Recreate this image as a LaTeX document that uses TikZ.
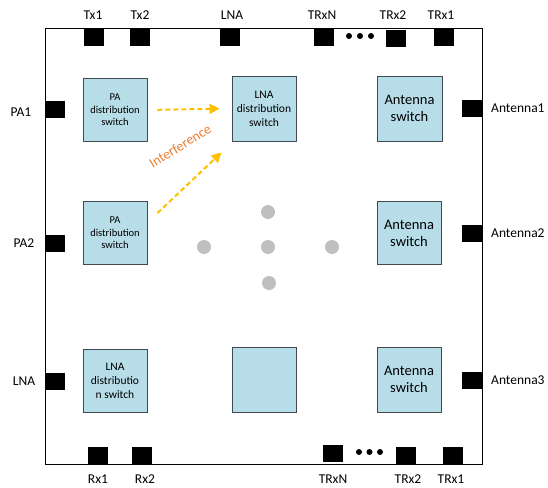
\documentclass[tikz,border=0pt]{standalone}
\usepackage{fontspec}
\setmainfont{Carlito}
\usetikzlibrary{arrows.meta,calc}
\definecolor{boxblue}{HTML}{B7DDE8}
\definecolor{boxedge}{HTML}{404A50}
\definecolor{gold}{HTML}{FFC000}
\definecolor{orng}{HTML}{ED7D31}
\definecolor{dotgray}{HTML}{BFBFBF}
\begin{document}
\begin{tikzpicture}[x=1pt,y=-1pt,
  pad/.style={fill=black,draw=none,minimum width=20pt,minimum height=17pt,inner sep=0pt},
  lbl/.style={font=\fontsize{13.5}{15}\selectfont,inner sep=0pt},
  sw/.style={draw=boxedge,line width=0.9pt,fill=boxblue,minimum width=64pt,minimum height=63pt,inner sep=0pt,align=center},
  bigtxt/.style={font=\fontsize{14.5}{17}\selectfont},
  smalltxt/.style={font=\fontsize{10.5}{12.5}\selectfont},
  midtxt/.style={font=\fontsize{11.5}{14}\selectfont},
  interf/.style={gold,line width=2pt,dash pattern=on 5pt off 3pt,-{Triangle[length=10pt,width=10pt]},shorten <=10pt,shorten >=12pt},
  gdot/.style={circle,fill=dotgray,draw=none,minimum size=14pt,inner sep=0pt},
  bdot/.style={circle,fill=black,draw=none,minimum size=6pt,inner sep=0pt}]
\useasboundingbox (0,0) rectangle (548,487);
% chip outline
\node[draw=black,line width=1pt,minimum width=437pt,minimum height=435pt,inner sep=0pt] (chip) at (263.5,246.5) {};
% top pads
\node[pad] (tx1) at (93.5,37.5) {};
\node[pad] (tx2) at (140,37.5) {};
\node[pad] (lnat) at (230,37.5) {};
\node[pad] (trxnt) at (323.5,37.5) {};
\node[pad] (trx2t) at (396,38.5) {};
\node[pad] (trx1t) at (443.5,38) {};
\node[bdot] (td1) at (349,36) {};
\node[bdot] (td2) at (360,36) {};
\node[bdot] (td3) at (371,36) {};
\node[lbl] (ltx1) at (93,15) {Tx1};
\node[lbl] (ltx2) at (140,15) {Tx2};
\node[lbl] (llnat) at (232,15) {LNA};
\node[lbl] (ltrxnt) at (322,15) {TRxN};
\node[lbl] (ltrx2t) at (393,15) {TRx2};
\node[lbl] (ltrx1t) at (441,15) {TRx1};
% left pads
\node[pad] (pa1) at (55,109.5) {};
\node[pad] (pa2) at (55,243.5) {};
\node[pad] (lnal) at (55,381) {};
\node[lbl] (lpa1) at (21,112) {PA1};
\node[lbl] (lpa2) at (24,243) {PA2};
\node[lbl] (llnal) at (24,381) {LNA};
% right pads
\node[pad] (ant1) at (472,108.5) {};
\node[pad] (ant2) at (472,233) {};
\node[pad] (ant3) at (472,380) {};
\node[lbl,anchor=west] (lant1) at (491,108) {Antenna1};
\node[lbl,anchor=west] (lant2) at (491,233) {Antenna2};
\node[lbl,anchor=west] (lant3) at (491,380) {Antenna3};
% bottom pads
\node[pad] (rx1) at (98,455.5) {};
\node[pad] (rx2) at (142,455.5) {};
\node[pad] (trxnb) at (333,453) {};
\node[pad] (trx2b) at (406,455) {};
\node[pad] (trx1b) at (453,455) {};
\node[bdot] (bd1) at (359,452) {};
\node[bdot] (bd2) at (369.5,452) {};
\node[bdot] (bd3) at (380,452) {};
\node[lbl] (lrx1) at (98,479) {Rx1};
\node[lbl] (lrx2) at (145,479) {Rx2};
\node[lbl] (ltrxnb) at (333,479) {TRxN};
\node[lbl] (ltrx2b) at (408,479) {TRx2};
\node[lbl] (ltrx1b) at (451,479) {TRx1};
% switch boxes
\node[sw,smalltxt] (pasw1) at (115,110) {PA\\distribution\\switch};
\node[sw,midtxt,minimum height=65pt] (lnasw1) at (264,108.5) {LNA\\distribution\\switch};
\node[sw,bigtxt,minimum width=65pt,minimum height=65pt] (antsw1) at (409.5,108.5) {Antenna\\switch};
\node[sw,smalltxt] (pasw2) at (115,233) {PA\\distribution\\switch};
\node[sw,bigtxt] (antsw2) at (409,233) {Antenna\\switch};
\node[sw,midtxt] (lnasw2) at (115,381) {LNA\\distributio\\n switch};
\node[sw,minimum height=65pt] (blank) at (264,379.5) {};
\node[sw,bigtxt,minimum height=65pt] (antsw3) at (409,379.5) {Antenna\\switch};
% interference arrows
\draw[interf] (pasw1.east) -- (lnasw1.west);
\coordinate (ia) at ($(pasw2.north east)+(10,12)$);
\coordinate (ib) at ($(lnasw1.south west)+(-10,11)$);
\draw[interf,shorten <=0pt,shorten >=0pt] (ia) -- (ib);
\node[orng,font=\fontsize{14}{15}\selectfont,rotate=32,inner sep=0pt] (itxt) at (180,146) {Interference};
% gray dots
\node[gdot] (g1) at (268,212) {};
\node[gdot] (g2) at (268,247) {};
\node[gdot] (g3) at (269,283) {};
\node[gdot] (g4) at (204,247) {};
\node[gdot] (g5) at (332,247) {};
\end{tikzpicture}
\end{document}
